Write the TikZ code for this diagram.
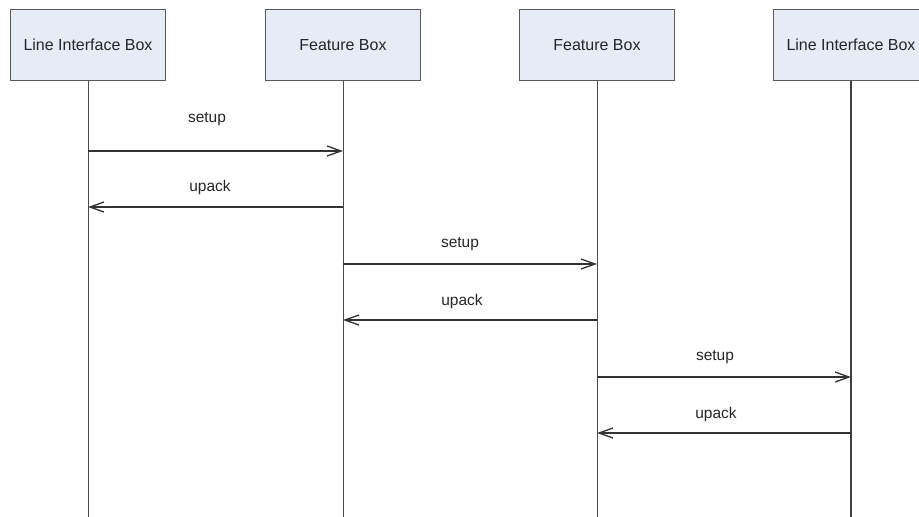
\documentclass[tikz,border=0pt]{standalone}
\usepackage{fontspec}
\setmainfont{Liberation Sans}
\usetikzlibrary{arrows.meta}
\definecolor{boxfill}{HTML}{E6EBF5}
\definecolor{boxline}{HTML}{5A5A5A}
\definecolor{msgline}{HTML}{333333}
\tikzset{
  actor/.style={draw=boxline, fill=boxfill, line width=1pt, minimum width=155pt, minimum height=71pt, inner sep=0pt, font=\fontsize{16}{19}\selectfont, text=black!85},
  lifeline/.style={draw=black!70, line width=1pt},
  msg/.style={draw=msgline, line width=1.3pt, -{Straight Barb[length=14pt,width=10pt,line width=1.3pt]}},
  msglabel/.style={font=\fontsize{15.5}{18}\selectfont, text=black!85, inner sep=0pt}
}
\begin{document}
\begin{tikzpicture}[x=1pt,y=-1pt]
\useasboundingbox (0,0) rectangle (919,517);
\begin{scope}
\clip (0,0) rectangle (919,517);
\node[actor] (a1) at (88,45) {Line Interface Box};
\node[actor] (a2) at (343,45) {Feature Box};
\node[actor] (a3) at (597,45) {Feature Box};
\node[actor] (a4) at (851,45) {Line Interface Box};
\coordinate (e1) at (88,517);
\coordinate (e2) at (343,517);
\coordinate (e3) at (597,517);
\coordinate (e4) at (851,517);
\draw[lifeline] (a1.south) -- (e1);
\draw[lifeline] (a2.south) -- (e2);
\draw[lifeline] (a3.south) -- (e3);
\draw[lifeline, line width=2pt, draw=black!75] (a4.south) -- (e4);
% messages
\coordinate (s1a) at (88,151); \coordinate (s1b) at (343,151);
\coordinate (u1a) at (343,207); \coordinate (u1b) at (88,207);
\coordinate (s2a) at (343,264); \coordinate (s2b) at (597,264);
\coordinate (u2a) at (597,320); \coordinate (u2b) at (343,320);
\coordinate (s3a) at (597,377); \coordinate (s3b) at (851,377);
\coordinate (u3a) at (851,433); \coordinate (u3b) at (597,433);
\draw[msg] (s1a) -- (s1b);
\draw[msg] (u1a) -- (u1b);
\draw[msg] (s2a) -- (s2b);
\draw[msg] (u2a) -- (u2b);
\draw[msg] (s3a) -- (s3b);
\draw[msg] (u3a) -- (u3b);
\node[msglabel] (l1) at (207,119) {setup};
\node[msglabel] (l2) at (210,187) {upack};
\node[msglabel] (l3) at (460,244) {setup};
\node[msglabel] (l4) at (462,301) {upack};
\node[msglabel] (l5) at (715,357) {setup};
\node[msglabel] (l6) at (716,414) {upack};
\end{scope}
\end{tikzpicture}
\end{document}
